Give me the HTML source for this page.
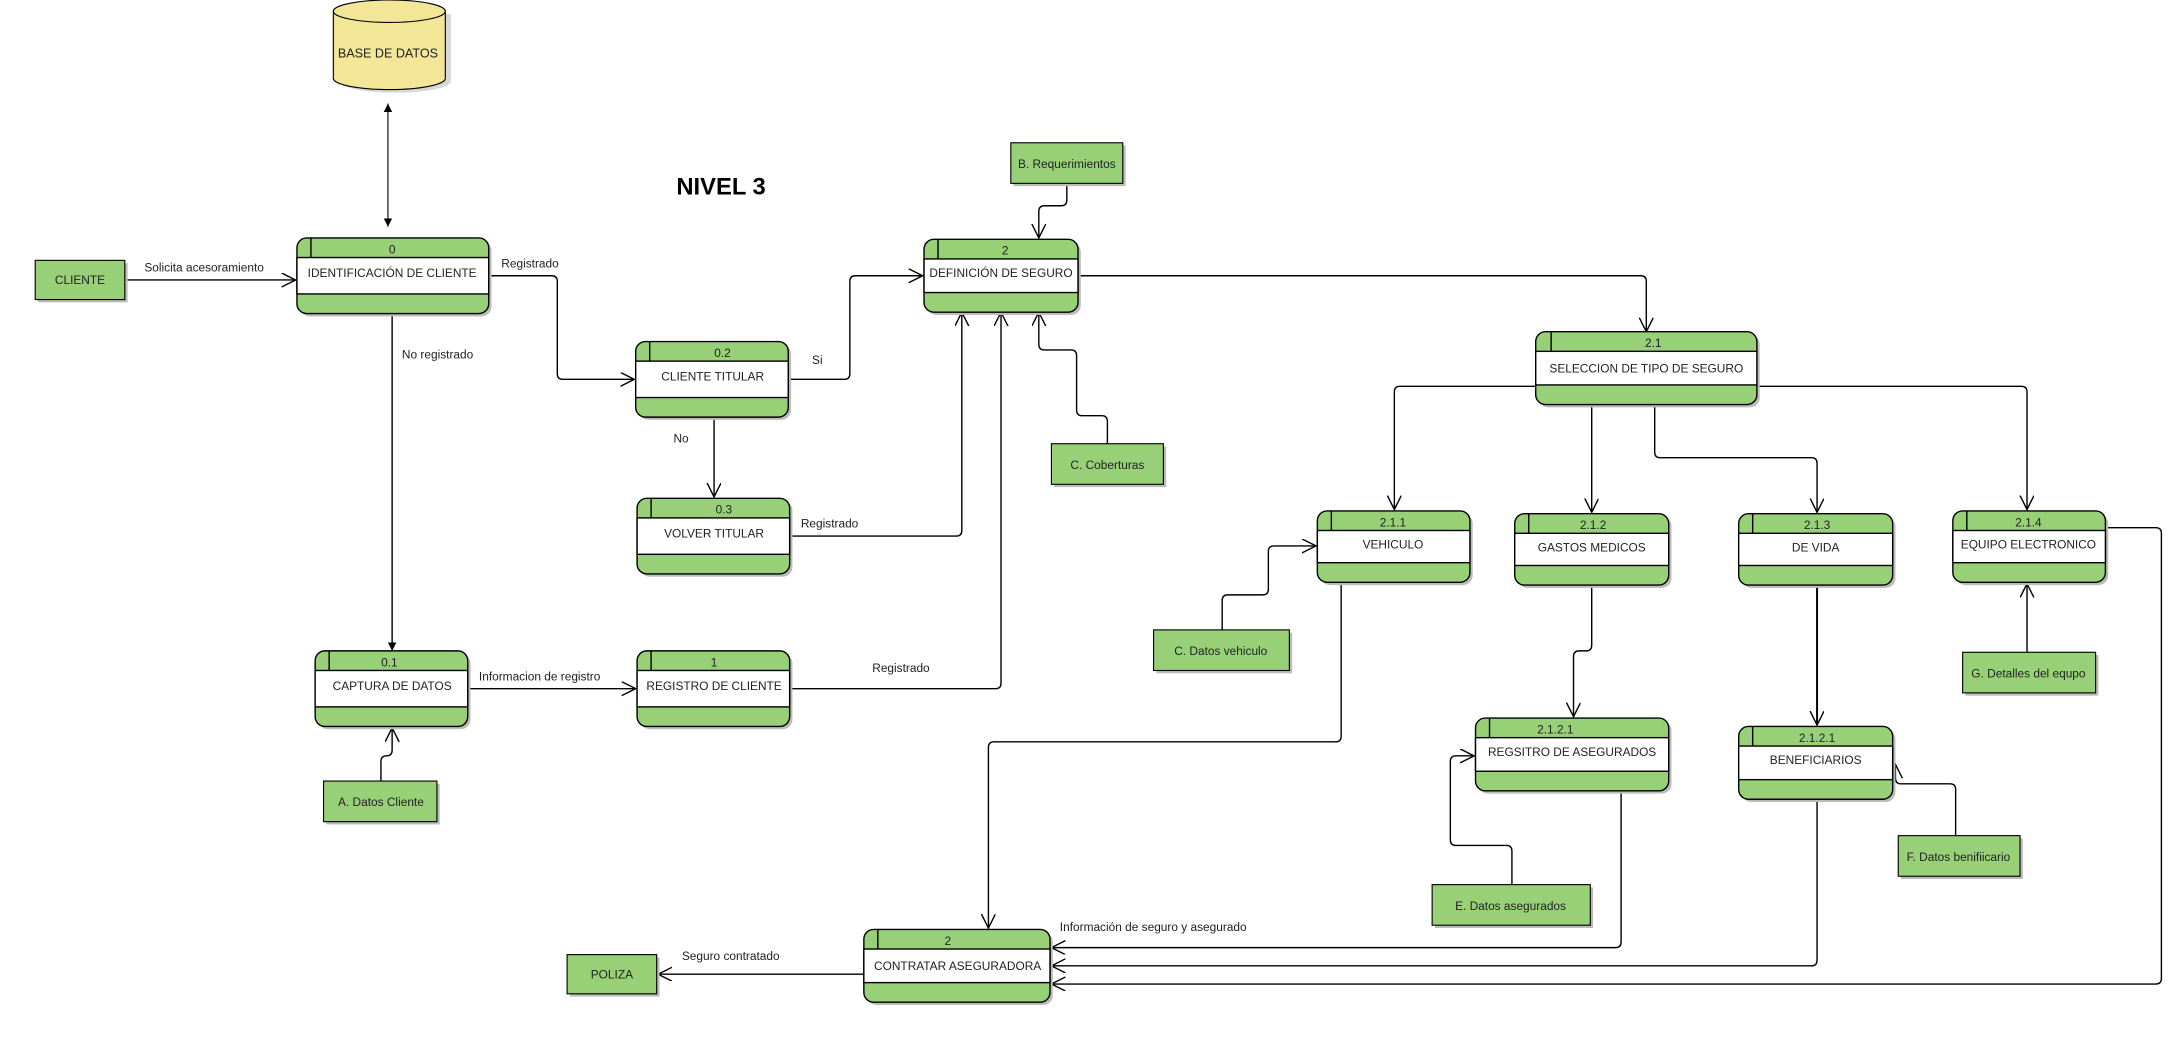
<!DOCTYPE html>
<html><head><meta charset="utf-8"><style>
html,body{margin:0;padding:0;background:#fff;}
svg{display:block}
text{font-family:"Liberation Sans",sans-serif;fill:#222}
</style></head><body>
<svg width="2184" height="1054" viewBox="0 0 1560 753" xmlns="http://www.w3.org/2000/svg">
<defs>
<marker id="a" markerWidth="12" markerHeight="12" refX="10" refY="5" orient="auto" markerUnits="userSpaceOnUse">
<path d="M0,0 L10,5 L0,10" fill="none" stroke="#000" stroke-width="1"/></marker>
<marker id="f" markerWidth="8" markerHeight="8" refX="6" refY="3" orient="auto" markerUnits="userSpaceOnUse">
<path d="M0,0 L6,3 L0,6 z" fill="#000"/></marker>
<marker id="fs" markerWidth="8" markerHeight="8" refX="0" refY="3" orient="auto" markerUnits="userSpaceOnUse">
<path d="M6,0 L0,3 L6,6 z" fill="#000"/></marker>
</defs>

<!-- Database -->
<path d="M240,8 L240,56 A39,8 0 0 0 320,56 L320,8" fill="#b0b0b0" opacity="0.5" transform="translate(2,2)"/>
<path d="M238,8 L238,56 A40,8 0 0 0 318,56 L318,8 A40,8 0 0 0 238,8 z" fill="#f3e797" stroke="#000" stroke-width="0.8"/>
<path d="M238,8 A40,8 0 0 0 318,8" fill="none" stroke="#000" stroke-width="0.8"/>
<text x="277" y="41" font-size="9" text-anchor="middle">BASE DE DATOS</text>
<line x1="277" y1="74" x2="277" y2="162" stroke="#000" stroke-width="0.8" marker-start="url(#fs)" marker-end="url(#f)"/>

<text x="515" y="139" font-size="17" font-weight="bold" text-anchor="middle" style="fill:#000">NIVEL 3</text>

<g fill="none" stroke="#000" stroke-width="1">
<!-- connectors -->
<path d="M89,200 H211" marker-end="url(#a)"/>
<path d="M349,197 H394 Q398,197 398,201 V267 Q398,271 402,271 H453" marker-end="url(#a)"/>
<path d="M280,224 V465" marker-end="url(#f)"/>
<path d="M563,271 H603 Q607,271 607,267 V201 Q607,197 611,197 H659" marker-end="url(#a)"/>
<path d="M510,298 V355" marker-end="url(#a)"/>
<path d="M564,383 H683 Q687,383 687,379 V223" marker-end="url(#a)"/>
<path d="M564,492 H711 Q715,492 715,488 V223" marker-end="url(#a)"/>
<path d="M334,492 H454" marker-end="url(#a)"/>
<path d="M272,558 V544 Q272,540 276,540 Q280,540 280,536 V520" marker-end="url(#a)"/>
<path d="M762,131 V143 Q762,147 758,147 H746 Q742,147 742,151 V170" marker-end="url(#a)"/>
<path d="M791,317 V301 Q791,297 787,297 H773 Q769,297 769,293 V254 Q769,250 765,250 H746 Q742,250 742,246 V223" marker-end="url(#a)"/>
<path d="M770,197 H1172 Q1176,197 1176,201 V237" marker-end="url(#a)"/>
<path d="M1097,276 H1000 Q996,276 996,280 V364" marker-end="url(#a)"/>
<path d="M1137,289 V366" marker-end="url(#a)"/>
<path d="M1182,289 V323 Q1182,327 1186,327 H1294 Q1298,327 1298,331 V366" marker-end="url(#a)"/>
<path d="M1255,276 H1444 Q1448,276 1448,280 V364" marker-end="url(#a)"/>
<path d="M873,450 V429 Q873,425 877,425 H902 Q906,425 906,421 V394 Q906,390 910,390 H940" marker-end="url(#a)"/>
<path d="M958,416 V526 Q958,530 954,530 H710 Q706,530 706,534 V663" marker-end="url(#a)"/>
<path d="M1137,418 V461 Q1137,465 1133,465 H1128 Q1124,465 1124,469 V512" marker-end="url(#a)"/>
<path d="M1080,632 V608 Q1080,604 1076,604 H1040 Q1036,604 1036,600 V544 Q1036,540 1040,540 H1053" marker-end="url(#a)"/>
<path d="M1158,565 V673 Q1158,677 1154,677 H751" marker-end="url(#a)"/>
<path d="M1298,418 V518" stroke-width="1.4" marker-end="url(#a)"/>
<path d="M1397,597 V564 Q1397,560 1393,560 H1358 Q1354,560 1354,556 V546" marker-end="url(#a)"/>
<path d="M1298,571 V686 Q1298,690 1294,690 H751" marker-end="url(#a)"/>
<path d="M1504,377 H1540 Q1544,377 1544,381 V699 Q1544,703 1540,703 H751" marker-end="url(#a)"/>
<path d="M1448,466 V441 V417" marker-end="url(#a)"/>
<path d="M617,696 H470" marker-end="url(#a)"/>
</g>

<!-- labels -->
<g font-size="8.5">
<text x="103" y="194">Solicita acesoramiento</text>
<text x="358" y="191">Registrado</text>
<text x="287" y="256">No registrado</text>
<text x="580" y="260">Si</text>
<text x="481" y="316">No</text>
<text x="572" y="377">Registrado</text>
<text x="623" y="480">Registrado</text>
<text x="342" y="486">Informacion de registro</text>
<text x="487" y="686">Seguro contratado</text>
<text x="757" y="665">Información de seguro y asegurado</text>
</g>

<!-- external entities -->
<g font-size="8.5" text-anchor="middle">
<g><rect x="27" y="188" width="64" height="28" fill="#bbb"/><rect x="25" y="186" width="64" height="28" fill="#97d077" stroke="#000" stroke-width="0.8"/><text x="57" y="203">CLIENTE</text></g>
<g><rect x="724" y="104" width="80" height="29" fill="#bbb"/><rect x="722" y="102" width="80" height="29" fill="#97d077" stroke="#000" stroke-width="0.8"/><text x="762" y="120">B. Requerimientos</text></g>
<g><rect x="753" y="319" width="80" height="29" fill="#bbb"/><rect x="751" y="317" width="80" height="29" fill="#97d077" stroke="#000" stroke-width="0.8"/><text x="791" y="335">C. Coberturas</text></g>
<g><rect x="826" y="452" width="97" height="29" fill="#bbb"/><rect x="824" y="450" width="97" height="29" fill="#97d077" stroke="#000" stroke-width="0.8"/><text x="872" y="468">C. Datos vehiculo</text></g>
<g><rect x="233" y="560" width="81" height="29" fill="#bbb"/><rect x="231" y="558" width="81" height="29" fill="#97d077" stroke="#000" stroke-width="0.8"/><text x="272" y="576">A. Datos Cliente</text></g>
<g><rect x="1404" y="468" width="95" height="29" fill="#bbb"/><rect x="1402" y="466" width="95" height="29" fill="#97d077" stroke="#000" stroke-width="0.8"/><text x="1449" y="484">G. Detalles del equpo</text></g>
<g><rect x="1025" y="634" width="113" height="29" fill="#bbb"/><rect x="1023" y="632" width="113" height="29" fill="#97d077" stroke="#000" stroke-width="0.8"/><text x="1079" y="650">E. Datos asegurados</text></g>
<g><rect x="1358" y="599" width="87" height="29" fill="#bbb"/><rect x="1356" y="597" width="87" height="29" fill="#97d077" stroke="#000" stroke-width="0.8"/><text x="1399" y="615">F.  Datos benifiicario</text></g>
<g><rect x="407" y="684" width="64" height="28" fill="#bbb"/><rect x="405" y="682" width="64" height="28" fill="#97d077" stroke="#000" stroke-width="0.8"/><text x="437" y="699">POLIZA</text></g>
</g>

<!-- processes -->
<g font-size="8.5" text-anchor="middle">
<!-- template: x,y,w,h=54 -->
<g transform="translate(212,170)"><rect x="2" y="2" width="137" height="54" rx="7" fill="#bbb"/><rect width="137" height="54" rx="7" fill="#97d077" stroke="#000"/><rect y="14" width="137" height="26" fill="#fff" stroke="#000"/><line x1="10" y1="0" x2="10" y2="14" stroke="#000"/><text x="68" y="11">0</text><text x="68" y="28">IDENTIFICACIÓN DE CLIENTE</text></g>
<g transform="translate(454,244)"><rect x="2" y="2" width="109" height="54" rx="7" fill="#bbb"/><rect width="109" height="54" rx="7" fill="#97d077" stroke="#000"/><rect y="14" width="109" height="26" fill="#fff" stroke="#000"/><line x1="10" y1="0" x2="10" y2="14" stroke="#000"/><text x="62" y="11">0.2</text><text x="55" y="28">CLIENTE TITULAR</text></g>
<g transform="translate(455,356)"><rect x="2" y="2" width="109" height="54" rx="7" fill="#bbb"/><rect width="109" height="54" rx="7" fill="#97d077" stroke="#000"/><rect y="14" width="109" height="26" fill="#fff" stroke="#000"/><line x1="10" y1="0" x2="10" y2="14" stroke="#000"/><text x="62" y="11">0.3</text><text x="55" y="28">VOLVER TITULAR</text></g>
<g transform="translate(225,465)"><rect x="2" y="2" width="109" height="54" rx="7" fill="#bbb"/><rect width="109" height="54" rx="7" fill="#97d077" stroke="#000"/><rect y="14" width="109" height="26" fill="#fff" stroke="#000"/><line x1="10" y1="0" x2="10" y2="14" stroke="#000"/><text x="53" y="11">0.1</text><text x="55" y="28">CAPTURA DE DATOS</text></g>
<g transform="translate(455,465)"><rect x="2" y="2" width="109" height="54" rx="7" fill="#bbb"/><rect width="109" height="54" rx="7" fill="#97d077" stroke="#000"/><rect y="14" width="109" height="26" fill="#fff" stroke="#000"/><line x1="10" y1="0" x2="10" y2="14" stroke="#000"/><text x="55" y="11">1</text><text x="55" y="28">REGISTRO DE CLIENTE</text></g>
<g transform="translate(660,171)"><rect x="2" y="2" width="110" height="52" rx="7" fill="#bbb"/><rect width="110" height="52" rx="7" fill="#97d077" stroke="#000"/><rect y="14" width="110" height="24" fill="#fff" stroke="#000"/><line x1="10" y1="0" x2="10" y2="14" stroke="#000"/><text x="58" y="11">2</text><text x="55" y="27">DEFINICIÓN DE SEGURO</text></g>
<g transform="translate(1097,237)"><rect x="2" y="2" width="158" height="52" rx="7" fill="#bbb"/><rect width="158" height="52" rx="7" fill="#97d077" stroke="#000"/><rect y="14" width="158" height="24" fill="#fff" stroke="#000"/><line x1="11" y1="0" x2="11" y2="14" stroke="#000"/><text x="84" y="11">2.1</text><text x="79" y="29">SELECCION DE TIPO DE SEGURO</text></g>
<g transform="translate(941,365)"><rect x="2" y="2" width="109" height="51" rx="7" fill="#bbb"/><rect width="109" height="51" rx="7" fill="#97d077" stroke="#000"/><rect y="14" width="109" height="23" fill="#fff" stroke="#000"/><line x1="10" y1="0" x2="10" y2="14" stroke="#000"/><text x="54" y="11">2.1.1</text><text x="54" y="27">VEHICULO</text></g>
<g transform="translate(1082,367)"><rect x="2" y="2" width="110" height="51" rx="7" fill="#bbb"/><rect width="110" height="51" rx="7" fill="#97d077" stroke="#000"/><rect y="14" width="110" height="23" fill="#fff" stroke="#000"/><line x1="10" y1="0" x2="10" y2="14" stroke="#000"/><text x="56" y="11">2.1.2</text><text x="55" y="27">GASTOS MEDICOS</text></g>
<g transform="translate(1242,367)"><rect x="2" y="2" width="110" height="51" rx="7" fill="#bbb"/><rect width="110" height="51" rx="7" fill="#97d077" stroke="#000"/><rect y="14" width="110" height="23" fill="#fff" stroke="#000"/><line x1="10" y1="0" x2="10" y2="14" stroke="#000"/><text x="56" y="11">2.1.3</text><text x="55" y="27">DE VIDA</text></g>
<g transform="translate(1395,365)"><rect x="2" y="2" width="109" height="51" rx="7" fill="#bbb"/><rect width="109" height="51" rx="7" fill="#97d077" stroke="#000"/><rect y="14" width="109" height="23" fill="#fff" stroke="#000"/><line x1="10" y1="0" x2="10" y2="14" stroke="#000"/><text x="54" y="11">2.1.4</text><text x="54" y="27">EQUIPO ELECTRONICO</text></g>
<g transform="translate(1054,513)"><rect x="2" y="2" width="138" height="52" rx="7" fill="#bbb"/><rect width="138" height="52" rx="7" fill="#97d077" stroke="#000"/><rect y="14" width="138" height="24" fill="#fff" stroke="#000"/><line x1="10" y1="0" x2="10" y2="14" stroke="#000"/><text x="57" y="11">2.1.2.1</text><text x="69" y="27">REGSITRO DE ASEGURADOS</text></g>
<g transform="translate(1242,519)"><rect x="2" y="2" width="110" height="52" rx="7" fill="#bbb"/><rect width="110" height="52" rx="7" fill="#97d077" stroke="#000"/><rect y="14" width="110" height="24" fill="#fff" stroke="#000"/><line x1="10" y1="0" x2="10" y2="14" stroke="#000"/><text x="56" y="11">2.1.2.1</text><text x="55" y="27">BENEFICIARIOS</text></g>
<g transform="translate(617,664)"><rect x="2" y="2" width="133" height="52" rx="7" fill="#bbb"/><rect width="133" height="52" rx="7" fill="#97d077" stroke="#000"/><rect y="14" width="133" height="24" fill="#fff" stroke="#000"/><line x1="10" y1="0" x2="10" y2="14" stroke="#000"/><text x="60" y="11">2</text><text x="67" y="29">CONTRATAR ASEGURADORA</text></g>
</g>
</svg>
</body></html>
